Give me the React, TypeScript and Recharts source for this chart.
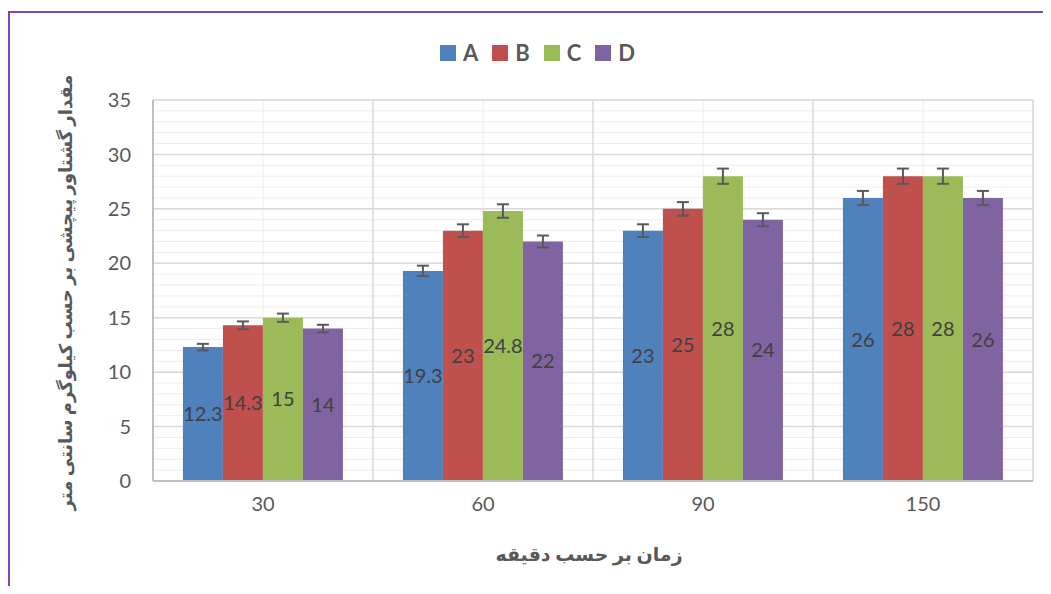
import React from 'react';
import { BarChart, Bar, XAxis, YAxis, CartesianGrid, LabelList, ErrorBar } from 'recharts';

// times in minutes
const categories = ['30', '60', '90', '150'];
const seriesA = [12.3, 19.3, 23, 26];
const seriesB = [14.3, 23, 25, 28];
const seriesC = [15, 24.8, 28, 28];
const seriesD = [14, 22, 24, 26];
const errA = [0.3, 0.48, 0.58, 0.65];
const errB = [0.36, 0.58, 0.62, 0.7];
const errC = [0.38, 0.62, 0.7, 0.7];
const errD = [0.35, 0.55, 0.6, 0.65];
const yTicks = [0, 5, 10, 15, 20, 25, 30, 35];

const seriesInfo = [
    { key: 'A', color: '#4f81bd' },
    { key: 'B', color: '#c0504d' },
    { key: 'C', color: '#9bbb59' },
    { key: 'D', color: '#8064a2' },
];

const data = categories.map((cat, i) => ({
    cat,
    A: seriesA[i], B: seriesB[i], C: seriesC[i], D: seriesD[i],
    eA: errA[i], eB: errB[i], eC: errC[i], eD: errD[i],
}));

const FONT = "Lato, 'DejaVu Sans', sans-serif";
const TEXT = '#595959';
const Y_MAX = 35;

const LegendBox = () => (
    <div style={{ position: 'absolute', left: 440, top: 42, display: 'flex', alignItems: 'center', fontFamily: FONT }}>
        {seriesInfo.map(s => (
            <div key={s.key} style={{ display: 'flex', alignItems: 'center', marginRight: 14 }}>
                <span style={{ width: 16, height: 16, background: s.color, display: 'inline-block', marginRight: 7 }} />
                <span style={{ fontSize: 22, fontWeight: 700, color: TEXT, lineHeight: '22px' }}>{s.key}</span>
            </div>
        ))}
    </div>
);

const minorLines = ({ offset }: any) => {
    const out: number[] = [];
    for (let v = 0; v <= Y_MAX; v++) out.push(offset.top + offset.height * (1 - v / Y_MAX));
    return out;
};

const boundaryLines = ({ offset }: any) => {
    const n = categories.length;
    const out: number[] = [];
    for (let i = 0; i <= n; i++) out.push(offset.left + (offset.width * i) / n);
    return out;
};

export default function App() {
    return (
        <div style={{ position: 'relative', margin: -8, width: 1051, height: 594, background: '#fff', overflow: 'hidden' }}>
            <div style={{ position: 'absolute', left: 8, top: 11, right: -10, bottom: -10, borderLeft: '2px solid #7e46b8', borderTop: '2px solid #7e46b8' }} />
            <BarChart
                width={1051}
                height={594}
                data={data}
                margin={{ top: 100, right: 18, bottom: 0, left: 0 }}
                barCategoryGap="13.6%"
                barGap={0}
                style={{ position: 'absolute', left: 0, top: 0 }}
            >
                <CartesianGrid stroke="#eeeeee" vertical={false} horizontalCoordinatesGenerator={minorLines} />
                <CartesianGrid stroke="#eeeeee" horizontal={false} />
                <CartesianGrid stroke="#d9d9d9" strokeWidth={1.5} verticalCoordinatesGenerator={boundaryLines} />
                <XAxis
                    dataKey="cat"
                    height={113}
                    tickSize={0}
                    tickMargin={16}
                    axisLine={{ stroke: '#bfbfbf', strokeWidth: 2 }}
                    tick={{ fill: TEXT, fontSize: 20, fontFamily: FONT }}
                    label={{
                        content: ({ viewBox }: any) => (
                            <text x={viewBox.x + viewBox.width / 2 - 4} y={viewBox.y + 72} textAnchor="middle" dominantBaseline="central"
                                fill={TEXT} fontSize={19} fontWeight={700} fontFamily={FONT}>
                                زمان بر حسب دقیقه
                            </text>
                        ),
                    }}
                />
                <YAxis
                    width={153}
                    domain={[0, Y_MAX]}
                    ticks={yTicks}
                    tickSize={0}
                    tickMargin={22}
                    axisLine={{ stroke: '#bfbfbf', strokeWidth: 2 }}
                    tick={{ fill: TEXT, fontSize: 20, fontFamily: FONT }}
                    label={{
                        content: ({ viewBox }: any) => {
                            const cx = viewBox.x + 65;
                            const cy = viewBox.y + viewBox.height / 2 + 2;
                            return (
                                <text x={cx} y={cy} transform={`rotate(-90 ${cx} ${cy})`} textAnchor="middle" dominantBaseline="central"
                                    fill={TEXT} fontSize={18} fontWeight={700} fontFamily={FONT}>
                                    مقدار گشتاور پیچشی بر حسب کیلوگرم سانتی متر
                                </text>
                            );
                        },
                    }}
                />
                {seriesInfo.map(s => (
                    <Bar key={s.key} dataKey={s.key} fill={s.color} isAnimationActive={false}>
                        <ErrorBar dataKey={'e' + s.key} width={6} stroke="#595959" strokeWidth={2} />
                        <LabelList dataKey={s.key} position="center" fill="#404040" fontSize={20} fontFamily={FONT} />
                    </Bar>
                ))}
            </BarChart>
            <LegendBox />
        </div>
    );
}
